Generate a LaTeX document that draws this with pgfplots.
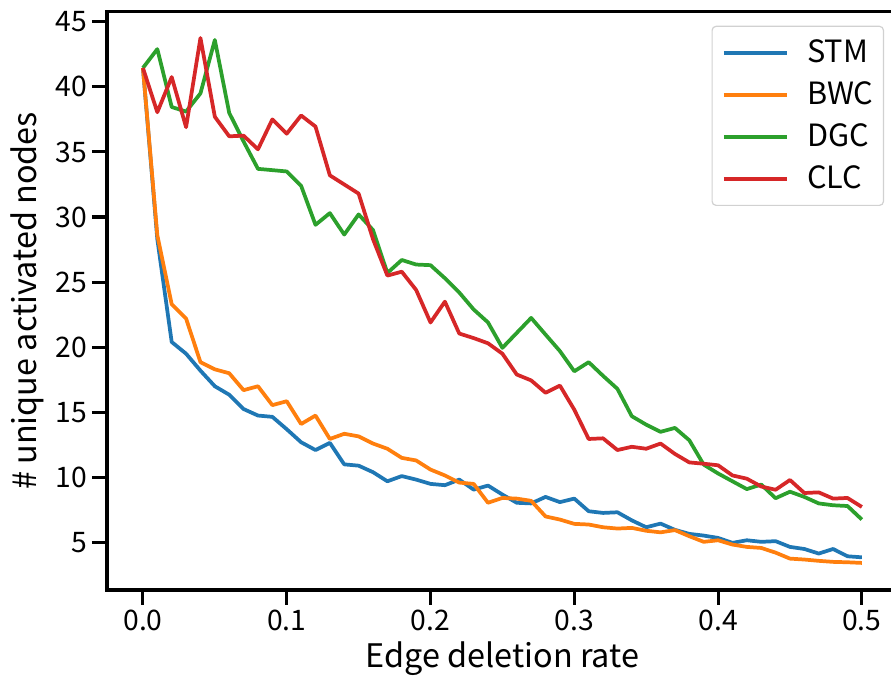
\documentclass[border=0pt]{standalone}
\usepackage{fontspec}
\setmainfont{Noto Sans CJK JP}
\usepackage{pgfplots}
\pgfplotsset{compat=1.18}
\definecolor{c1}{HTML}{1F77B4}
\definecolor{c2}{HTML}{FF7F0E}
\definecolor{c3}{HTML}{2CA02C}
\definecolor{c4}{HTML}{D62728}
\begin{document}
\begin{tikzpicture}
\begin{axis}[
  at={(0,0)}, anchor=south west,
  scale only axis, width=593.1pt, height=433.7pt,
  xmin=-0.025, xmax=0.525, ymin=1.35, ymax=45.77,
  xtick={0,0.1,0.2,0.3,0.4,0.5},
  ytick={5,10,15,20,25,30,35,40,45},
  xticklabel style={/pgf/number format/.cd, fixed, fixed zerofill, precision=1},
  /pgf/number format/assume math mode=true,
  tick label style={font=\fontsize{21.2}{25}\selectfont, black},
  xtick pos=bottom, ytick pos=left,
  tick align=outside, major tick length=11.25pt,
  tick style={line width=2.3pt, black},
  axis line style={line width=2.3pt, black},
  xlabel={Edge deletion rate},
  ylabel={\# unique activated nodes},
  label style={font=\fontsize{24.3}{28}\selectfont},
  xlabel style={at={(axis description cs:0.5,-0.1332)}, anchor=base},
  ylabel style={at={(axis description cs:-0.0894,0.5)}, anchor=base},
  legend style={at={(1,1)}, anchor=north east, xshift=-10.3pt, yshift=-10.5pt,
    draw=black!18, line width=0.9pt, rounded corners=3pt, fill=white,
    font=\fontsize{23}{27}\selectfont, inner xsep=7.5pt, inner ysep=12.3pt,
    row sep=16.3pt, nodes={inner sep=0pt, text height=15.2pt, text depth=0pt},
    /tikz/every odd column/.style={column sep=14pt}},
  legend cell align=left,
  legend image code/.code={\draw[#1,line width=2.8pt] (0pt,0pt) -- (47pt,0pt);},
  every axis plot/.append style={line width=2.8pt, line join=round},
]
\addplot[c1, mark=none] coordinates {
(0.00,41.45)(0.01,28.3)(0.02,20.4)(0.03,19.5)(0.04,18.2)(0.05,17.0)(0.06,16.35)(0.07,15.25)(0.08,14.75)(0.09,14.65)
(0.10,13.7)(0.11,12.7)(0.12,12.1)(0.13,12.65)(0.14,11.0)(0.15,10.9)(0.16,10.4)(0.17,9.7)(0.18,10.1)(0.19,9.83)
(0.20,9.5)(0.21,9.4)(0.22,9.83)(0.23,9.06)(0.24,9.37)(0.25,8.68)(0.26,8.05)(0.27,8.0)(0.28,8.5)(0.29,8.1)
(0.30,8.37)(0.31,7.4)(0.32,7.27)(0.33,7.32)(0.34,6.7)(0.35,6.17)(0.36,6.45)(0.37,5.97)(0.38,5.66)(0.39,5.53)
(0.40,5.35)(0.41,4.97)(0.42,5.17)(0.43,5.05)(0.44,5.1)(0.45,4.66)(0.46,4.5)(0.47,4.15)(0.48,4.5)(0.49,3.94)(0.50,3.86)};
\addlegendentry{STM}
\addplot[c2, mark=none] coordinates {
(0.00,41.45)(0.01,28.6)(0.02,23.3)(0.03,22.2)(0.04,18.85)(0.05,18.3)(0.06,18.0)(0.07,16.7)(0.08,17.0)(0.09,15.55)
(0.10,15.85)(0.11,14.1)(0.12,14.75)(0.13,12.95)(0.14,13.35)(0.15,13.15)(0.16,12.6)(0.17,12.2)(0.18,11.5)(0.19,11.3)
(0.20,10.6)(0.21,10.15)(0.22,9.6)(0.23,9.5)(0.24,8.05)(0.25,8.42)(0.26,8.37)(0.27,8.2)(0.28,7.0)(0.29,6.76)
(0.30,6.43)(0.31,6.38)(0.32,6.17)(0.33,6.07)(0.34,6.12)(0.35,5.9)(0.36,5.78)(0.37,5.95)(0.38,5.48)(0.39,5.05)
(0.40,5.17)(0.41,4.84)(0.42,4.66)(0.43,4.58)(0.44,4.22)(0.45,3.76)(0.46,3.69)(0.47,3.59)(0.48,3.51)(0.49,3.48)(0.50,3.43)};
\addlegendentry{BWC}
\addplot[c3, mark=none] coordinates {
(0.00,41.45)(0.01,42.9)(0.02,38.45)(0.03,38.1)(0.04,39.5)(0.05,43.6)(0.06,38.0)(0.07,35.8)(0.08,33.7)(0.09,33.6)
(0.10,33.5)(0.11,32.4)(0.12,29.4)(0.13,30.3)(0.14,28.65)(0.15,30.2)(0.16,29.0)(0.17,25.7)(0.18,26.7)(0.19,26.35)
(0.20,26.3)(0.21,25.3)(0.22,24.2)(0.23,22.9)(0.24,21.9)(0.25,19.95)(0.26,21.1)(0.27,22.25)(0.28,20.97)(0.29,19.7)
(0.30,18.15)(0.31,18.85)(0.32,17.8)(0.33,16.8)(0.34,14.7)(0.35,14.05)(0.36,13.5)(0.37,13.8)(0.38,12.85)(0.39,10.98)
(0.40,10.3)(0.41,9.7)(0.42,9.1)(0.43,9.45)(0.44,8.4)(0.45,8.9)(0.46,8.5)(0.47,8.0)(0.48,7.86)(0.49,7.8)(0.50,6.76)};
\addlegendentry{DGC}
\addplot[c4, mark=none] coordinates {
(0.00,41.45)(0.01,38.05)(0.02,40.75)(0.03,36.9)(0.04,43.75)(0.05,37.7)(0.06,36.2)(0.07,36.25)(0.08,35.2)(0.09,37.5)
(0.10,36.4)(0.11,37.8)(0.12,36.95)(0.13,33.2)(0.14,32.5)(0.15,31.8)(0.16,28.3)(0.17,25.5)(0.18,25.8)(0.19,24.4)
(0.20,21.9)(0.21,23.5)(0.22,21.05)(0.23,20.7)(0.24,20.3)(0.25,19.5)(0.26,17.9)(0.27,17.45)(0.28,16.5)(0.29,17.05)
(0.30,15.2)(0.31,12.95)(0.32,13.0)(0.33,12.1)(0.34,12.35)(0.35,12.2)(0.36,12.6)(0.37,11.8)(0.38,11.15)(0.39,11.05)
(0.40,10.93)(0.41,10.15)(0.42,9.9)(0.43,9.3)(0.44,9.05)(0.45,9.8)(0.46,8.8)(0.47,8.85)(0.48,8.37)(0.49,8.42)(0.50,7.73)};
\addlegendentry{CLC}
\end{axis}
\pgfresetboundingbox
\useasboundingbox (-80.25pt,-67.5pt) rectangle (588pt,442.5pt);
\end{tikzpicture}
\end{document}
